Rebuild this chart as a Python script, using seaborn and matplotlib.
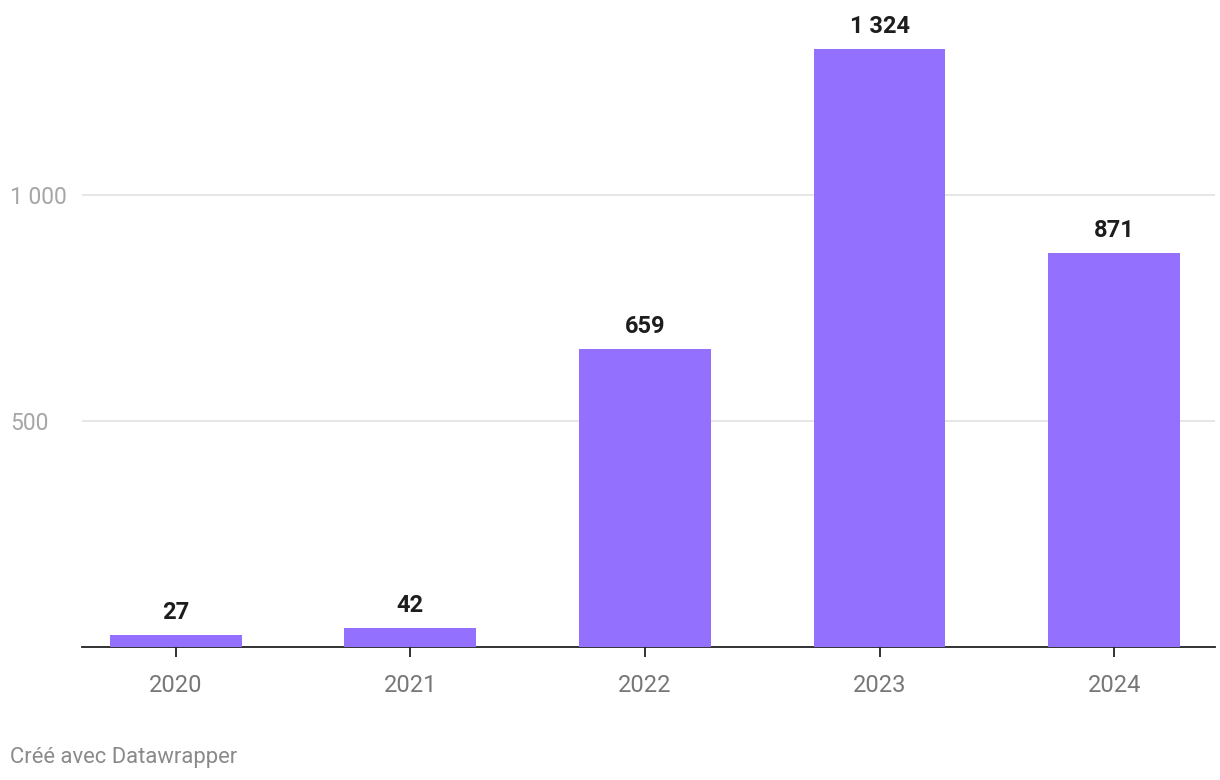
import matplotlib
matplotlib.use("Agg")
import matplotlib.pyplot as plt
import seaborn as sns
import pandas as pd

years = ["2020", "2021", "2022", "2023", "2024"]
values = [27, 42, 659, 1324, 871]
yticks = [500, 1000]
ytick_labels = ["500", "1 000"]
footer = "Créé avec Datawrapper"

sns.set_theme(style="white")
plt.rcParams["font.family"] = ["Roboto", "DejaVu Sans"]

W, H = 1220, 780
fig = plt.figure(figsize=(W / 100, H / 100), dpi=100)
ymax = 1400
px_per_unit = 226 / 500
ax_h = ymax * px_per_unit
ax = fig.add_axes([82 / W, (H - 647) / H, (1215 - 82) / W, ax_h / H])

df = pd.DataFrame({"year": years, "value": values})
sns.barplot(data=df, x="year", y="value", color="#9470fe", saturation=1,
            width=0.562, ax=ax, zorder=3, linewidth=0, edgecolor="none")

ax.set_ylim(0, ymax)
ax.set_xlim(-0.4, 4.43)
ax.set_yticks(yticks)
ax.set_yticklabels(ytick_labels)
ax.yaxis.grid(True, color="#e2e2e2", linewidth=1.2, zorder=0)
ax.set_axisbelow(True)
ax.set_xlabel("")
ax.set_ylabel("")
for s in ["top", "right", "left"]:
    ax.spines[s].set_visible(False)
ax.spines["bottom"].set_color("#222222")
ax.spines["bottom"].set_linewidth(1.3)

ax.tick_params(axis="y", left=False, length=0, pad=72 * 0.72, labelsize=16.5,
               labelcolor="#a6a6a6")
for lab in ax.get_yticklabels():
    lab.set_horizontalalignment("left")
ax.tick_params(axis="x", bottom=True, direction="out", length=7, width=1.3,
               color="#222222", pad=12.5, labelsize=17, labelcolor="#777777")

for i, v in enumerate(values):
    txt = f"{v:,}".replace(",", " ")
    ax.annotate(txt, (i, v), xytext=(0, 11.5), textcoords="offset points",
                ha="center", va="baseline", fontsize=17, fontweight="bold",
                color="#1d1d1d")

fig.text(10 / W, 1 - 757 / H, footer, ha="left", va="center", fontsize=15.8,
         color="#8a8a8a")

fig.savefig("out.png", dpi=100)
